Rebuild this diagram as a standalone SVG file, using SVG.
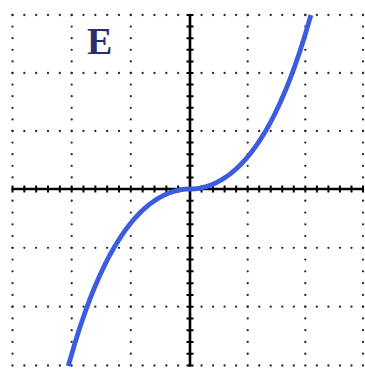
<svg xmlns="http://www.w3.org/2000/svg" width="365" height="369" viewBox="0 0 365 369">
<style>
.dot{fill:none;stroke:#2a2a2a;stroke-width:2.3;stroke-linecap:round}
.axis{fill:none;stroke:#000;stroke-width:2.6}
.tick{fill:none;stroke:#000;stroke-width:7}
.curve{fill:none;stroke:#3b5ce0;stroke-width:4.8;stroke-linejoin:round;stroke-linecap:butt}
.lbl{font-family:"Liberation Serif","Times New Roman",serif;font-weight:bold;font-size:38px;fill:#2e2c6e}
</style>
<rect width="365" height="369" fill="#fff"/>
<g id="grid">
<path class="dot" stroke-dasharray="0 11.8333" d="M12.5 15H190M12.5 73H190M12.5 131H190M12.5 247.8H190M12.5 306.7H190M12.5 365.5H190"/>
<path class="dot" stroke-dasharray="0 11.5333" d="M190 15H363M190 73H363M190 131H363M190 247.8H363M190 306.7H363M190 365.5H363"/>
<path class="dot" stroke-dasharray="0 11.6" d="M12.5 15V189M71.7 15V189M130.8 15V189M247.7 15V189M305.3 15V189M363 15V189"/>
<path class="dot" stroke-dasharray="0 11.7667" d="M12.5 189V365.5M71.7 189V365.5M130.8 189V365.5M247.7 189V365.5M305.3 189V365.5M363 189V365.5"/>
</g>
<g id="axes">
<path class="axis" d="M12.5 189H363M190 15V365.5"/>
<path class="tick" stroke-dasharray="2 9.8333" d="M11.5 189H191"/>
<path class="tick" stroke-dasharray="2 9.5333" d="M189 189H364"/>
<path class="tick" stroke-dasharray="2 9.6" d="M190 14V190"/>
<path class="tick" stroke-dasharray="2 9.7667" d="M190 188V366.5"/>
</g>
<g id="curve">
<path class="curve" d="M68.3 366L70 359.84L75 342.82L80 327.03L85 312.41L90 298.91L95 286.45L100 274.97L105 264.43L110 254.77L115 245.94L120 237.9L125 230.6L130 224L135 218.06L140 212.76L145 208.05L150 203.92L155 200.33L160 197.27L165 194.71L170 192.63L175 191.04L180 189.9L185 189.22L190 189L195 188.78L200 188.1L205 186.96L210 185.37L215 183.29L220 180.73L225 177.67L230 174.08L235 169.95L240 165.24L245 159.94L250 154L255 147.4L260 140.1L265 132.06L270 123.23L275 113.57L280 103.03L285 91.55L290 79.09L295 65.59L300 50.97L305 35.18L310 18.16L310.9 15"/>
</g>
<g id="label">
<text class="lbl" x="87" y="54">E</text>
</g>
</svg>
